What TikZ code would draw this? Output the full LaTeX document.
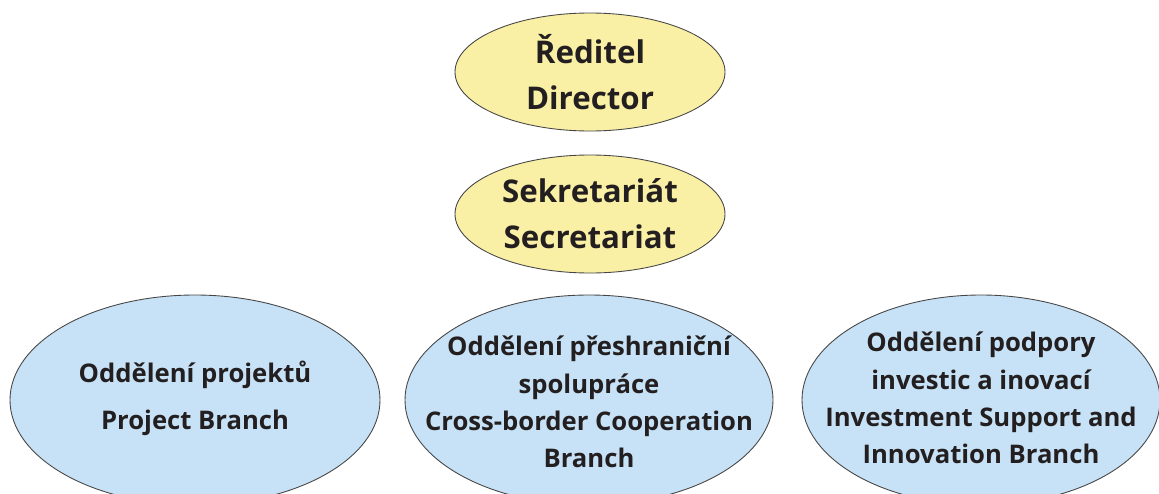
\documentclass[tikz,border=0pt]{standalone}
\usepackage{fontspec}
\setmainfont{Open Sans}
\usetikzlibrary{shapes.geometric}
\definecolor{headfill}{RGB}{250,240,165}
\definecolor{branchfill}{RGB}{199,226,246}
\definecolor{rimgray}{RGB}{70,70,70}
\definecolor{inkblack}{RGB}{35,31,32}

\begin{document}
\begin{tikzpicture}[
        unit/.style={ellipse, draw=rimgray, line width=0.5pt, inner sep=0pt},
        headunit/.style={unit, fill=headfill, minimum width=5.4cm, minimum height=2.36cm},
        branchunit/.style={unit, fill=branchfill, minimum height=4.2cm},
        headtext/.style={align=center, text=inkblack, inner sep=0pt,
            font=\fontsize{17.8}{26.3}\bfseries\selectfont},
        branchtext/.style={align=center, text=inkblack, inner sep=0pt,
            font=\fontsize{14.6}{21.2}\bfseries\selectfont}
    ]
            \useasboundingbox (0,0) rectangle (23.18,9.86);
            % ovals
            \node[headunit] (director) at (11.8,8.42) {};
            \node[headunit] (secretariat) at (11.8,5.58) {};
            \node[branchunit, minimum width=7.4cm] (projects) at (3.9,1.86) {};
            \node[branchunit, minimum width=7.36cm] (crossborder) at (11.78,1.86) {};
            \node[branchunit, minimum width=7.16cm] (investment) at (19.62,1.86) {};
            % texts
            \node[headtext] (directortext) at (director) {Ředitel\\Director};
            \node[headtext] (secretariattext) at (secretariat) {Sekretariát\\Secretariat};
            \node[branchtext, font=\fontsize{14.6}{26.6}\bfseries\selectfont] (projectstext)
                at ([yshift=0.04cm]projects) {Oddělení projektů\\Project Branch};
            \node[branchtext] (crossbordertext) at ([yshift=-0.04cm]crossborder)
                {Oddělení přeshraniční\\spolupráce\\Cross-border Cooperation\\Branch};
            \node[branchtext] (investmenttext) at ([yshift=0.04cm]investment)
                {Oddělení podpory\\investic a inovací\\Investment Support and\\Innovation Branch};
        \end{tikzpicture}
\end{document}
